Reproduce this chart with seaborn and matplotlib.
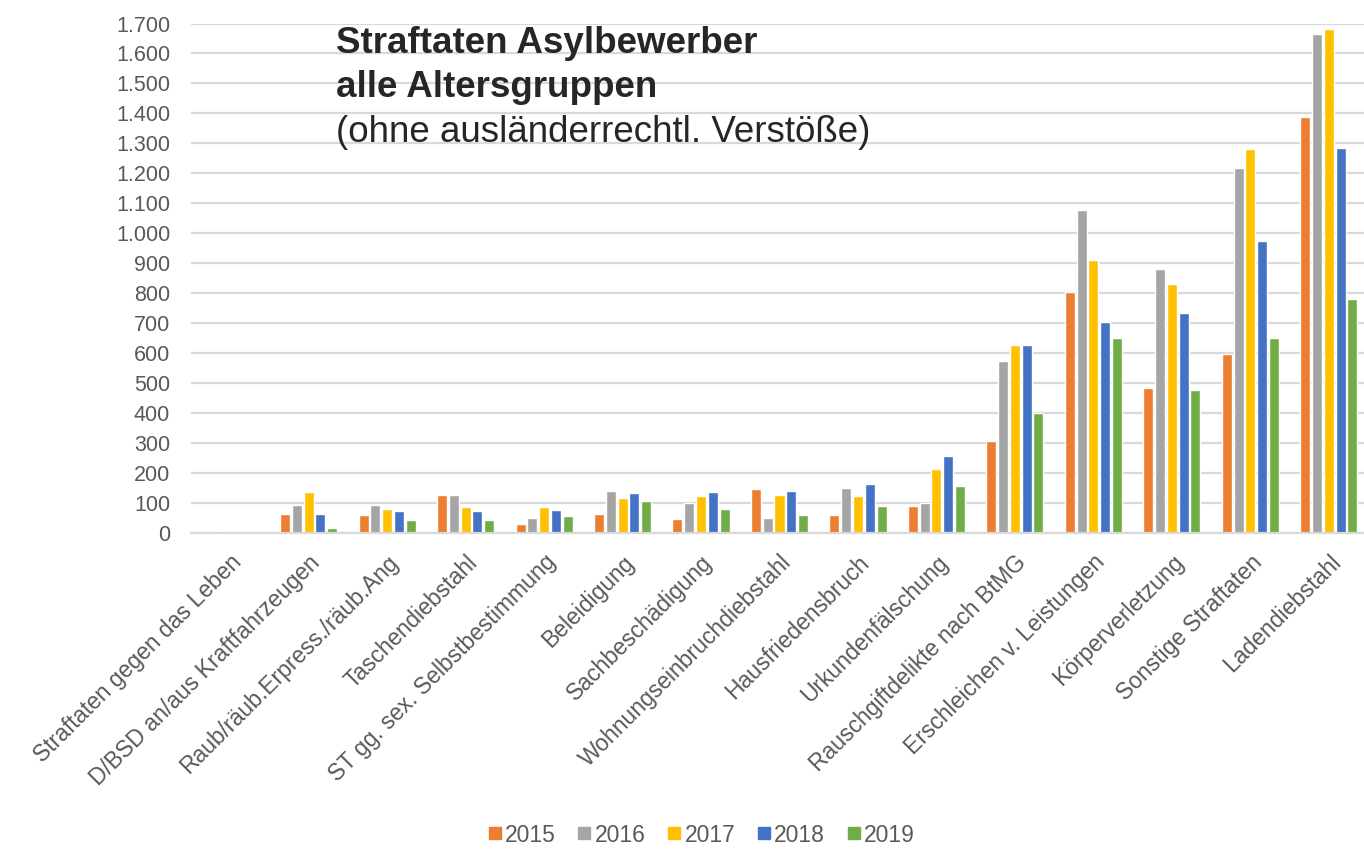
import numpy as np
import pandas as pd
import matplotlib
matplotlib.use("Agg")
import matplotlib.pyplot as plt
from matplotlib.ticker import FuncFormatter, MultipleLocator
from matplotlib.lines import Line2D
import seaborn as sns

# Offence categories (x axis)
categories = [
    "Straftaten gegen das Leben",
    "D/BSD an/aus Kraftfahrzeugen",
    "Raub/räub.Erpress./räub.Ang",
    "Taschendiebstahl",
    "ST gg. sex. Selbstbestimmung",
    "Beleidigung",
    "Sachbeschädigung",
    "Wohnungseinbruchdiebstahl",
    "Hausfriedensbruch",
    "Urkundenfälschung",
    "Rauschgiftdelikte nach BtMG",
    "Erschleichen v. Leistungen",
    "Körperverletzung",
    "Sonstige Straftaten",
    "Ladendiebstahl",
]

years = ["2015", "2016", "2017", "2018", "2019"]

# Case counts per year, one entry per category
v2015 = [0, 62, 58, 127, 29, 63, 46, 145, 59, 89, 306, 802, 483, 598, 1387]
v2016 = [7, 94, 94, 127, 50, 140, 100, 50, 149, 100, 572, 1076, 880, 1217, 1665]
v2017 = [0, 136, 80, 85, 85, 115, 123, 127, 123, 212, 628, 910, 829, 1281, 1682]
v2018 = [0, 62, 72, 72, 77, 131, 136, 140, 161, 256, 628, 704, 734, 973, 1286]
v2019 = [0, 16, 42, 42, 55, 106, 80, 59, 89, 157, 400, 649, 478, 649, 781]

colors = ["#ED7D31", "#A5A5A5", "#FFC000", "#4472C4", "#70AD47"]

series = [v2015, v2016, v2017, v2018, v2019]
df = pd.DataFrame({
    "Kategorie": np.tile(categories, len(years)),
    "Jahr": np.repeat(years, len(categories)),
    "Anzahl": np.concatenate(series),
})

sns.set_theme(style="white")
plt.rcParams["font.family"] = ["Liberation Sans", "DejaVu Sans"]

fig = plt.figure(figsize=(13.64, 8.49), dpi=100)
ax = fig.add_axes([191 / 1364, 1 - 532.7 / 849, (1368 - 191) / 1364, (532.7 - 23.5) / 849])

sns.barplot(
    data=df, x="Kategorie", y="Anzahl", hue="Jahr",
    palette=colors, saturation=1, width=0.75, gap=0.15,
    legend=False, ax=ax, errorbar=None,
)

ax.set_ylim(0, 1700)
ax.set_xlim(-0.5, len(categories) - 0.5)
ax.yaxis.set_major_locator(MultipleLocator(100))
ax.yaxis.set_major_formatter(FuncFormatter(lambda v, p: f"{int(v):,}".replace(",", ".")))
ax.set_axisbelow(True)
ax.yaxis.grid(True, color="#D9D9D9", linewidth=1.6)
ax.xaxis.grid(False)
for side in ["left", "right", "top"]:
    ax.spines[side].set_visible(False)
ax.spines["bottom"].set_color("#D9D9D9")
ax.spines["bottom"].set_linewidth(1.6)
ax.set_xlabel("")
ax.set_ylabel("")

ax.tick_params(axis="y", length=0, pad=15, labelsize=15.5, labelcolor="#595959")
ax.tick_params(axis="x", length=0, pad=13, labelsize=16.5, labelcolor="#595959")
plt.setp(ax.get_xticklabels(), rotation=45, ha="right", rotation_mode="anchor")

# Title block
tx = 336 / 1364
fig.text(tx, 1 - 53 / 849, "Straftaten Asylbewerber", fontsize=26.5, fontweight="bold",
         color="#262626", va="baseline", ha="left")
fig.text(tx, 1 - 97 / 849, "alle Altersgruppen", fontsize=26.5, fontweight="bold",
         color="#262626", va="baseline", ha="left")
fig.text(tx, 1 - 142 / 849, "(ohne ausländerrechtl. Verstöße)", fontsize=26.5,
         color="#262626", va="baseline", ha="left")

# Legend
handles = [Line2D([0], [0], marker="s", linestyle="none", markersize=8,
                  markerfacecolor=c, markeredgecolor=c) for c in colors]
fig.legend(handles, years, loc="center", bbox_to_anchor=(702 / 1364, 1 - 835 / 849),
           ncol=5, frameon=False, fontsize=16.5, labelcolor="#595959",
           handlelength=0.5, handletextpad=0.2, columnspacing=1.0)

fig.savefig("out.png", dpi=100)
